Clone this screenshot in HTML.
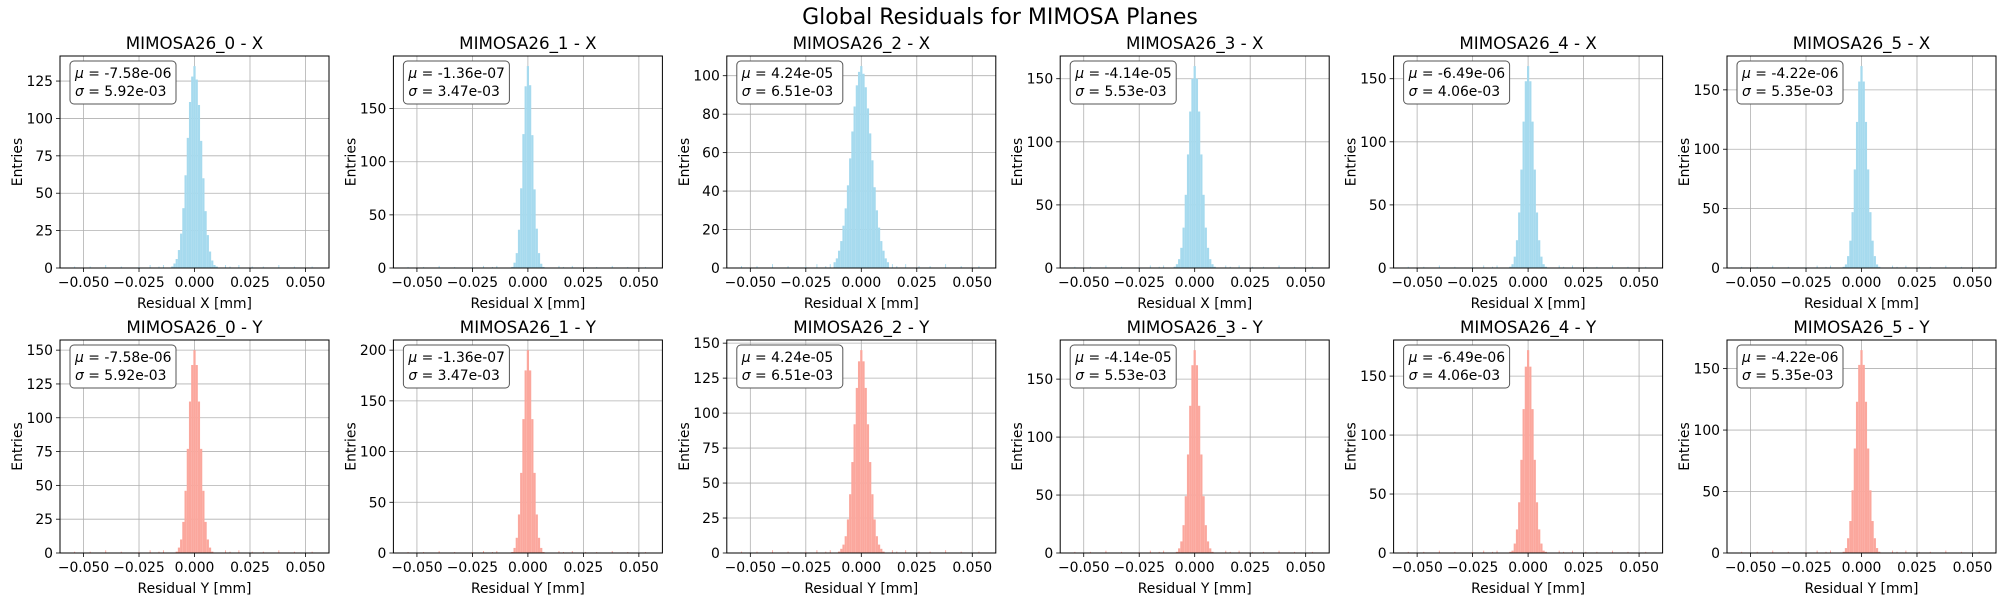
<!DOCTYPE html>
<html><head><meta charset="utf-8"><style>
body{margin:0;background:#fff;}
svg{display:block;font-family:"DejaVu Sans","Liberation Sans",sans-serif;}
</style></head><body>
<svg id="fig" width="2000" height="600" viewBox="0 0 2000 600">
<text x="1000" y="24" text-anchor="middle" font-size="22" fill="#000">Global Residuals for MIMOSA Planes</text>
</svg>
<script>
// bin centres (mm), core region
const binCenters = [-0.012,-0.011,-0.010,-0.009,-0.008,-0.007,-0.006,-0.005,-0.004,-0.003,-0.002,-0.001,0,0.001,0.002,0.003,0.004,0.005,0.006,0.007,0.008,0.009,0.010,0.011,0.012];
const countsX0 = [0,0,1,3,6,12,23,40,62,87,111,128,135,126,109,85,60,38,22,11,5,2,1,0,0];
const countsX1 = [0,0,0,0,0,1,5,14,36,75,126,171,190,172,125,74,37,14,4,1,0,0,0,0,0];
const countsX2 = [3,5,9,14,22,31,43,57,71,84,95,102,105,101,94,83,70,56,42,30,21,14,9,5,3];
const countsX3 = [0,0,0,1,3,7,16,32,58,90,124,150,160,150,124,90,58,32,16,7,3,1,0,0,0];
const countsX4 = [0,0,0,0,1,3,9,22,44,78,116,148,160,148,116,78,44,22,9,3,1,0,0,0,0];
const countsX5 = [0,0,0,0,1,3,10,23,47,83,123,157,170,157,123,83,47,23,10,3,1,0,0,0,0];
const countsY0 = [0,0,0,0,1,4,10,23,46,77,112,139,150,139,112,77,46,23,10,4,1,0,0,0,0];
const countsY1 = [0,0,0,0,0,1,5,15,38,79,132,180,200,180,132,79,38,15,5,1,0,0,0,0,0];
const countsY2 = [0,0,1,3,6,12,24,42,65,92,118,137,145,137,118,92,65,42,24,12,6,3,1,0,0];
const countsY3 = [0,0,0,0,1,4,10,24,49,85,127,162,175,162,127,85,49,24,10,4,1,0,0,0,0];
const countsY4 = [0,0,0,0,1,2,8,20,43,79,122,158,172,158,122,79,43,20,8,2,1,0,0,0,0];
const countsY5 = [0,0,0,0,1,4,12,26,51,85,123,153,165,153,123,85,51,26,12,4,1,0,0,0,0];
// sparse tail entries
const tailCenters = [-0.054,-0.047,-0.040,-0.033,-0.025,-0.020,-0.016,-0.014,0.014,0.016,0.020,0.026,0.031,0.038,0.045,0.053];
const tailCounts = [1,1,2,1,1,2,1,2,2,1,2,1,1,2,1,1];
const panelTitles = ["MIMOSA26_0 - X","MIMOSA26_1 - X","MIMOSA26_2 - X","MIMOSA26_3 - X","MIMOSA26_4 - X","MIMOSA26_5 - X","MIMOSA26_0 - Y","MIMOSA26_1 - Y","MIMOSA26_2 - Y","MIMOSA26_3 - Y","MIMOSA26_4 - Y","MIMOSA26_5 - Y"];
const muLabels = ["-7.58e-06","-1.36e-07","4.24e-05","-4.14e-05","-6.49e-06","-4.22e-06"];
const sigmaLabels = ["5.92e-03","3.47e-03","6.51e-03","5.53e-03","4.06e-03","5.35e-03"];
const yTickSteps = [25,50,20,50,50,50,25,50,25,50,50,50];
const xTickValues = [-0.05,-0.025,0,0.025,0.05];
const xTickLabels = ["\u22120.050","\u22120.025","0.000","0.025","0.050"];
const allCounts = [countsX0,countsX1,countsX2,countsX3,countsX4,countsX5,countsY0,countsY1,countsY2,countsY3,countsY4,countsY5];

const svg = document.getElementById('fig');
const NS = 'http://www.w3.org/2000/svg';
function mk(tag, attrs, parent){const e=document.createElementNS(NS,tag);for(const k in attrs)e.setAttribute(k,attrs[k]);(parent||svg).appendChild(e);return e;}

const W = 269, xMin = -0.0606, xMax = 0.0606, binW = 0.001;
for (let p = 0; p < 12; p++) {
  const row = Math.floor(p/6), col = p%6;
  const L = 60 + col*333.4, T = row ? 340 : 56, B = row ? 553 : 268, H = B - T;
  const counts = allCounts[p];
  const yMax = Math.max(...counts) * 1.05;
  const sx = v => L + (v - xMin) / (xMax - xMin) * W;
  const sy = v => B - v / yMax * H;
  const g = mk('g', {});
  
  
  // grid
  const yStep = yTickSteps[p];
  for (let v = 0; v <= yMax; v += yStep) {
    const gl = mk('line', {x1:L, x2:L+W, y1:sy(v), y2:sy(v), stroke:'#b0b0b0', 'stroke-width':0.8}, g);
    
    
    mk('line', {x1:L-4, x2:L, y1:sy(v), y2:sy(v), stroke:'#000', 'stroke-width':0.8}, g);
    const t = mk('text', {x:L-7, y:sy(v)+5, 'text-anchor':'end', 'font-size':13.9}, g);
    t.textContent = v;
    
    
  }
  xTickValues.forEach((v, i) => {
    const gl = mk('line', {x1:sx(v), x2:sx(v), y1:T, y2:B, stroke:'#b0b0b0', 'stroke-width':0.8}, g);
    
    
    mk('line', {x1:sx(v), x2:sx(v), y1:B, y2:B+4, stroke:'#000', 'stroke-width':0.8}, g);
    const t = mk('text', {x:sx(v), y:B+19, 'text-anchor':'middle', 'font-size':13.9}, g);
    t.textContent = xTickLabels[i];
    
    
  });
  const fill = row ? '#fba79d' : '#a6daee';
  // bars
  counts.forEach((c, i) => {
    if (!c) return;
    const x0 = sx(binCenters[i] - binW/2), x1 = sx(binCenters[i] + binW/2);
    const r = mk('rect', {x:x0, y:sy(c), width:x1-x0, height:B-sy(c), fill:fill}, g);
    
    
  });
  tailCounts.forEach((c, i) => {
    const x0 = sx(tailCenters[i] - 0.0002), x1 = sx(tailCenters[i] + 0.0002);
    const r = mk('rect', {x:x0, y:sy(c), width:x1-x0, height:B-sy(c), fill:fill}, g);
    
    
  });
  // frame
  const fr = mk('rect', {x:L, y:T, width:W, height:H, fill:'none', stroke:'#000', 'stroke-width':1}, g);
  
  
  // title
  const tt = mk('text', {x:L+W/2, y:T-7, 'text-anchor':'middle', 'font-size':16.7}, g);
  tt.textContent = panelTitles[p];
  
  
  // axis labels
  const xl = mk('text', {x:L+W/2, y:B+40, 'text-anchor':'middle', 'font-size':13.9}, g);
  xl.textContent = row ? 'Residual Y [mm]' : 'Residual X [mm]';
  
  
  const yl = mk('text', {x:0, y:0, 'text-anchor':'middle', 'font-size':13.9, transform:`translate(${L-(yMax>=100?38:30)},${T+H/2}) rotate(-90)`}, g);
  yl.textContent = 'Entries';
  
  
  // stats box
  const bx = mk('rect', {x:L+10, y:T+5, width:106, height:43, rx:4, fill:'#fff', stroke:'#555', 'stroke-width':1}, g);
  
  
  const m = mk('text', {x:L+15, y:T+22, 'font-size':13.9}, g);
  m.innerHTML = '<tspan font-style="italic">μ</tspan> = ' + muLabels[col];
  
  
  const s = mk('text', {x:L+15, y:T+40, 'font-size':13.9}, g);
  s.innerHTML = '<tspan font-style="italic">σ</tspan> = ' + sigmaLabels[col];
  
  
}
</script>
</body></html>
